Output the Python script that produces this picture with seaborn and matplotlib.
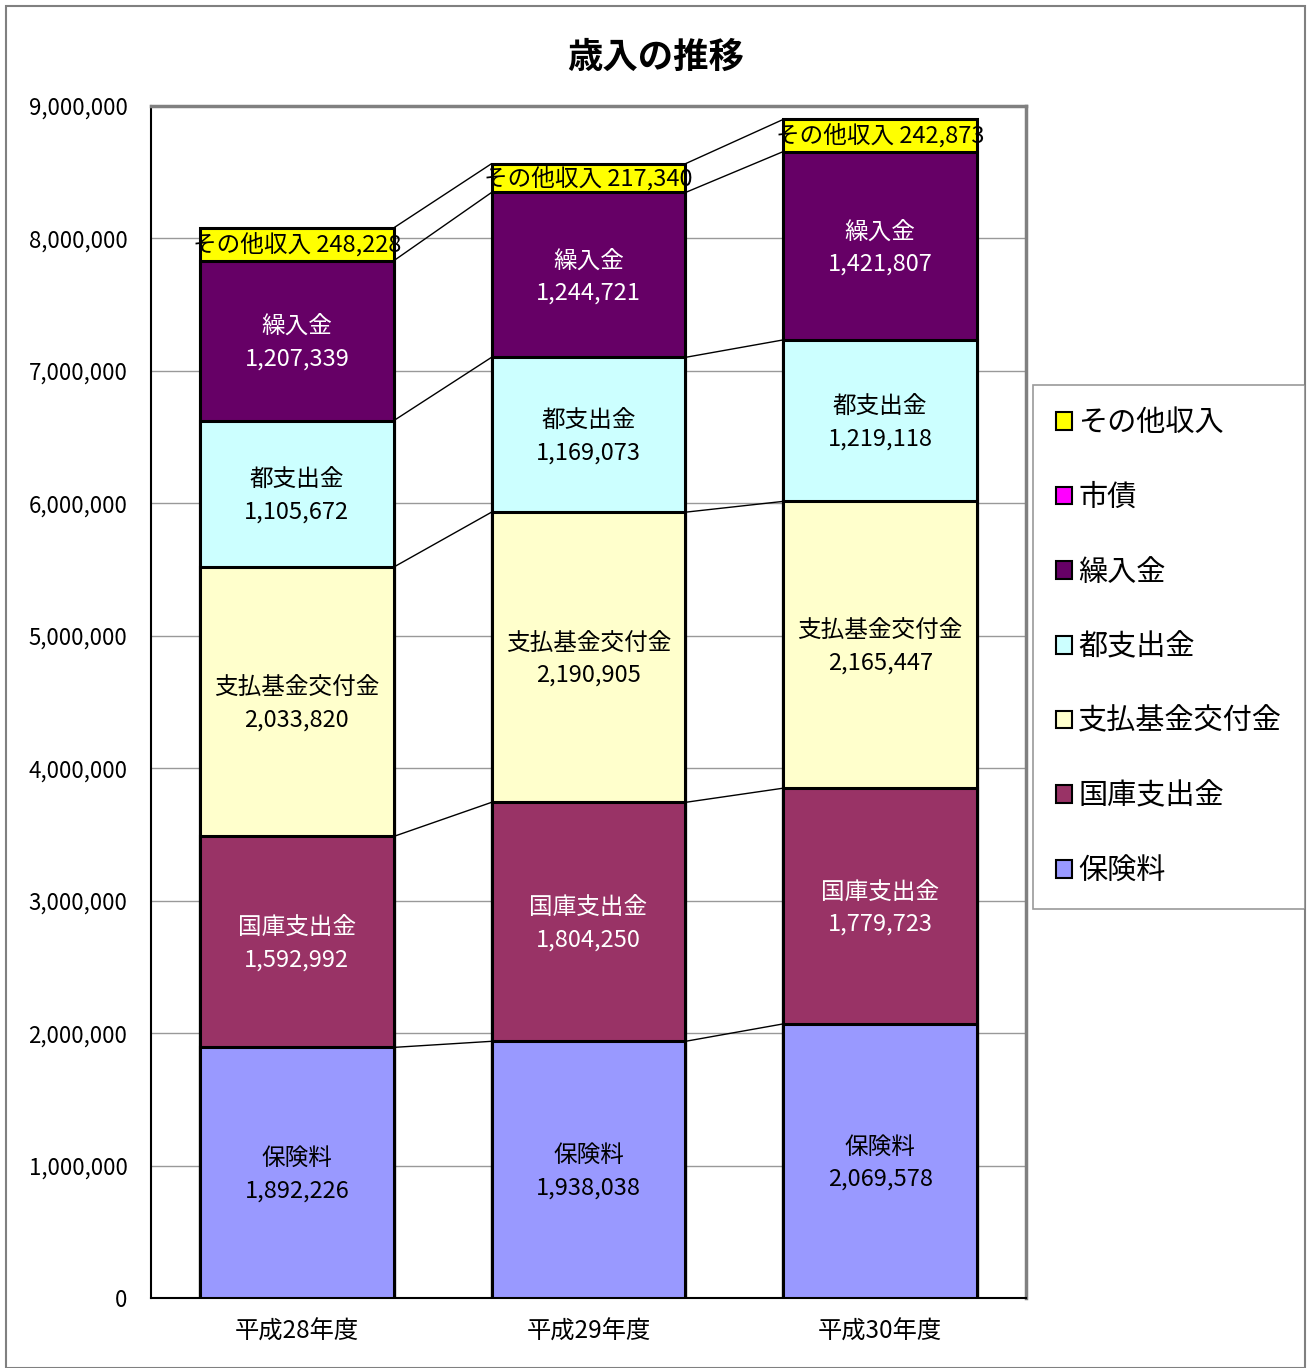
import matplotlib
matplotlib.use("Agg")
import matplotlib.pyplot as plt
from matplotlib.patches import Patch, Rectangle
from matplotlib.ticker import FuncFormatter, FixedLocator
import seaborn as sns
import numpy as np

# data
years = ["平成28年度", "平成29年度", "平成30年度"]
series = ["保険料", "国庫支出金", "支払基金交付金", "都支出金", "繰入金", "市債", "その他収入"]
hokenryo = [1892226, 1938038, 2069578]
kokko = [1592992, 1804250, 1779723]
shiharai = [2033820, 2190905, 2165447]
toshishutsu = [1105672, 1169073, 1219118]
kuriire = [1207339, 1244721, 1421807]
shisai = [0, 0, 0]
sonota = [248228, 217340, 242873]
colors = ["#9999FF", "#993366", "#FFFFCC", "#CCFFFF", "#660066", "#FF00FF", "#FFFF00"]

values = [hokenryo, kokko, shiharai, toshishutsu, kuriire, shisai, sonota]

sns.set_theme(style="white")
plt.rcParams["font.family"] = ["Noto Sans CJK JP", "DejaVu Sans"]
plt.rcParams["text.color"] = "black"
plt.rcParams["xtick.color"] = "black"
plt.rcParams["ytick.color"] = "black"

fig = plt.figure(figsize=(13.11, 13.68), dpi=100)
ax = fig.add_axes([151 / 1311, 1 - 1298 / 1368, (1026 - 151) / 1311, (1298 - 106) / 1368])

cum = np.cumsum(np.array(values, dtype=float), axis=0)
bw = 0.665

# stacked bars: draw cumulative totals from the top layer down
for k in range(len(series) - 1, -1, -1):
    if k == 5:
        continue
    sns.barplot(x=years, y=cum[k], color=colors[k], saturation=1, width=bw,
                edgecolor="black", linewidth=2.2, ax=ax, zorder=3)

# series lines between bars
for k in range(len(series)):
    if k == 5:
        continue
    for i in range(len(years) - 1):
        ax.plot([i + bw / 2, i + 1 - bw / 2], [cum[k][i], cum[k][i + 1]],
                color="black", linewidth=1, zorder=2)

# labels in segments
for k in range(len(series)):
    if k == 5:
        continue
    for i in range(len(years)):
        v = values[k][i]
        mid = cum[k][i] - v / 2
        if k == 6:
            ax.text(i, mid, f"{series[k]} {v:,}", ha="center", va="center",
                    fontsize=17, color="black", zorder=5)
        else:
            c = "white" if k in (1, 4) else "black"
            ax.text(i, mid - 15000, f"{series[k]}\n{v:,}", ha="center", va="center",
                    fontsize=17, color=c, linespacing=1.5, zorder=5)

ax.set_xlim(-0.5, 2.5)
ax.set_ylim(0, 9000000)
ax.yaxis.set_major_locator(FixedLocator(np.arange(0, 9000001, 1000000)))
ax.yaxis.set_major_formatter(FuncFormatter(lambda v, p: f"{int(v):,}"))
ax.grid(axis="y", color="#999999", linewidth=1, zorder=0)
ax.set_axisbelow(True)
ax.set_xlabel("")
ax.set_ylabel("")
ax.tick_params(axis="y", labelsize=16, length=0, pad=17)
ax.tick_params(axis="x", labelsize=17.5, length=0, pad=15)
ax.xaxis.set_minor_locator(FixedLocator([0.5, 1.5]))
ax.tick_params(axis="x", which="minor", direction="in", length=7, color="#808080", width=1)
for s in ["left", "bottom"]:
    ax.spines[s].set_color("black")
    ax.spines[s].set_linewidth(1.5)
for s in ["top", "right"]:
    ax.spines[s].set_color("#808080")
    ax.spines[s].set_linewidth(2.5)

fig.text(0.5, 1 - 57 / 1368, "歳入の推移", ha="center", va="center",
         fontsize=25.5, fontweight="bold", color="black")

# legend
handles = [Patch(facecolor=colors[k], edgecolor="black", linewidth=1.5, label=series[k])
           for k in range(len(series) - 1, -1, -1)]
leg = fig.legend(handles=handles, loc="upper left",
                 bbox_to_anchor=(1033 / 1311, 1 - 385 / 1368), fontsize=21,
                 frameon=True, fancybox=False, edgecolor="#808080",
                 handlelength=0.55, handleheight=0.55, handletextpad=0.2,
                 labelspacing=1.53, borderpad=0.8, borderaxespad=0)
leg.get_frame().set_linewidth(1.2)
leg._legend_box.sep = 0

fig.patches.append(Rectangle((6 / 1311, 0), 1299 / 1311, 1 - 6 / 1368,
                             transform=fig.transFigure, fill=False,
                             edgecolor="#808080", linewidth=1.5))

fig.savefig("out.png", dpi=100)
